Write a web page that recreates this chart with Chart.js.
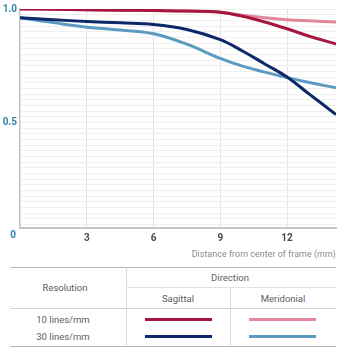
<!DOCTYPE html>
<html>
<head>
<meta charset="utf-8">
<script src="https://cdn.jsdelivr.net/npm/chart.js@4.4.1/dist/chart.umd.min.js"></script>
<style>
  html, body { margin: 0; padding: 0; background: #fff; }
  #wrap { position: relative; width: 350px; height: 350px; font-family: Roboto, "Liberation Sans", sans-serif; color: #5e5e5e; }
  #mtf { position: absolute; left: 0; top: 0; }
  .hl { position: absolute; height: 1px; background: #c9c9c9; }
  .vl { position: absolute; width: 1px; background: #d6d6d6; }
  .txt { position: absolute; font-size: 9.5px; transform: translate(-50%, -50%); white-space: nowrap; }
  .swatch { position: absolute; height: 3px; }
</style>
</head>
<body>
<div id="wrap">
  <canvas id="mtf" width="350" height="260"></canvas>
  <div id="legendTable"></div>
</div>
<script>
// distance from center of frame (mm)
const distances = [0, 1.5, 3, 4.5, 6, 7.5, 9, 10, 11, 12, 13, 14.2];

// MTF contrast values
const sagittal10   = [1.0, 0.999, 0.997, 0.995, 0.993, 0.991, 0.986, 0.968, 0.943, 0.913, 0.88, 0.846];
const meridional10 = [1.0, 0.999, 0.997, 0.995, 0.993, 0.991, 0.986, 0.972, 0.961, 0.953, 0.948, 0.943];
const sagittal30   = [0.962, 0.953, 0.945, 0.939, 0.932, 0.91, 0.865, 0.815, 0.758, 0.70, 0.625, 0.535];
const meridional30 = [0.962, 0.94, 0.92, 0.907, 0.891, 0.845, 0.782, 0.748, 0.722, 0.698, 0.676, 0.653];

const xTicks = [3, 6, 9, 12];
const yLabelTicks = [0.5, 1.0];
const yLabels = ['0.5', '1.0'];

const COLORS = {
  s10: '#a5173f',
  m10: '#e3879d',
  s30: '#0d2869',
  m30: '#5c9ac3',
  teal: '#2f86a3'
};

const toPoints = vals => distances.map((d, i) => ({ x: d, y: vals[i] }));

// faint horizontal grid every 0.025
const yGrid = [];
for (let i = 2; i <= 40; i++) yGrid.push(Math.round(i * 25) / 1000);

const originLabel = {
  id: 'originLabel',
  afterDraw(chart) {
    const { ctx, scales: { y } } = chart;
    ctx.save();
    ctx.font = 'bold 10px Roboto';
    ctx.fillStyle = COLORS.teal;
    ctx.textAlign = 'right';
    ctx.textBaseline = 'middle';
    ctx.fillText('0', y.right - 4, y.getPixelForValue(0));
    ctx.restore();
  }
};

const line = (label, vals, color) => ({
  label,
  data: toPoints(vals),
  borderColor: color,
  borderWidth: 3,
  pointRadius: 0,
  fill: false,
  tension: 0.4
});

new Chart(document.getElementById('mtf'), {
  type: 'line',
  data: {
    datasets: [
      line('Sagittal 10 lines/mm', sagittal10, COLORS.s10),
      line('Sagittal 30 lines/mm', sagittal30, COLORS.s30),
      line('Meridonial 10 lines/mm', meridional10, COLORS.m10),
      line('Meridonial 30 lines/mm', meridional30, COLORS.m30)
    ]
  },
  options: {
    responsive: false,
    animation: false,
    layout: { padding: { top: 8, right: 14, left: 0, bottom: 0 } },
    plugins: { legend: { display: false }, tooltip: { enabled: false } },
    scales: {
      x: {
        type: 'linear',
        min: 0,
        max: 14.2,
        afterBuildTicks: s => { s.ticks = xTicks.map(v => ({ value: v })); },
        afterFit: s => { s.height = 32; },
        grid: { color: '#e3e3e3', drawTicks: false },
        border: { color: '#c4c4c4', width: 2 },
        ticks: { padding: 4, color: '#4a4a4a', font: { family: 'Roboto', size: 10, weight: 'bold' }, maxRotation: 0 },
        title: {
          display: true,
          text: 'Distance from center of frame (mm)',
          align: 'end',
          color: '#8a8a8a',
          font: { family: 'Roboto', size: 9 },
          padding: { top: 1, bottom: 0 }
        }
      },
      y: {
        min: 0.035,
        max: 1.0,
        afterBuildTicks: s => { s.ticks = yGrid.map(v => ({ value: v })); },
        afterFit: s => { s.width = 20; },
        grid: { color: '#f0f0f0', drawTicks: false },
        border: { color: '#c4c4c4', width: 1.5 },
        ticks: {
          padding: 3,
          autoSkip: false,
          color: COLORS.teal,
          font: { family: 'Roboto', size: 10, weight: 'bold' },
          callback: v => {
            const k = yLabelTicks.findIndex(t => Math.abs(t - v) < 1e-6);
            return k >= 0 ? yLabels[k] : '';
          }
        }
      }
    }
  },
  plugins: [originLabel]
});

// legend table under the chart
const table = document.getElementById('legendTable');
const parts = [
  '<div class="hl" style="left:10px;width:326px;top:267px;background:#b5b5b5"></div>',
  '<div class="hl" style="left:126px;width:210px;top:287px;background:#e2e2e2"></div>',
  '<div class="hl" style="left:10px;width:326px;top:308px;background:#d2d2d2"></div>',
  '<div class="hl" style="left:10px;width:326px;top:346px;background:#b5b5b5"></div>',
  '<div class="vl" style="left:126px;top:267px;height:79px"></div>',
  '<div class="vl" style="left:230px;top:287px;height:59px"></div>',
  '<div class="txt" style="left:230px;top:277px">Direction</div>',
  '<div class="txt" style="left:65px;top:287px">Resolution</div>',
  '<div class="txt" style="left:178px;top:298px">Sagittal</div>',
  '<div class="txt" style="left:283px;top:298px">Meridonial</div>',
  '<div class="txt" style="left:63px;top:319px">10 lines/mm</div>',
  '<div class="txt" style="left:63px;top:336px">30 lines/mm</div>',
  `<div class="swatch" style="left:145px;width:67px;top:318px;background:${COLORS.s10}"></div>`,
  `<div class="swatch" style="left:249px;width:67px;top:318px;background:${COLORS.m10}"></div>`,
  `<div class="swatch" style="left:145px;width:67px;top:335px;background:${COLORS.s30}"></div>`,
  `<div class="swatch" style="left:249px;width:67px;top:335px;background:${COLORS.m30}"></div>`
];
table.innerHTML = parts.join('');
</script>
</body>
</html>
